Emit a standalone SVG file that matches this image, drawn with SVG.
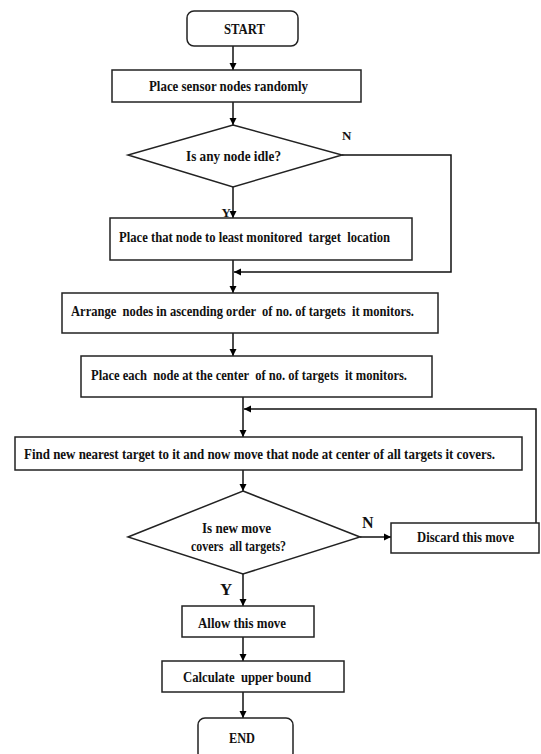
<svg xmlns="http://www.w3.org/2000/svg" width="541" height="754" viewBox="0 0 541 754">
<defs>
<marker id="ah" viewBox="0 0 10 10" refX="10" refY="5" markerWidth="7" markerHeight="8" markerUnits="userSpaceOnUse" orient="auto">
<path d="M0,0 L10,5 L0,10 z" fill="#000"/>
</marker>
<style>
.box{fill:#fff;stroke:#222;stroke-width:1.5}
.t{font-family:"Liberation Serif","Times New Roman",serif;font-weight:bold;font-size:15px;fill:#111}
.lb{font-family:"Liberation Serif","Times New Roman",serif;font-weight:bold;fill:#111}
.c{fill:none;stroke:#111;stroke-width:1.5;marker-end:url(#ah)}
</style>
</defs>
<rect width="541" height="754" fill="#fff"/>
<g id="connectors">
<line class="c" x1="233" y1="46" x2="233" y2="70"/>
<line class="c" x1="233" y1="102" x2="233" y2="125"/>
<line class="c" x1="233" y1="187" x2="233" y2="218"/>
<line class="c" x1="233" y1="260" x2="233" y2="293"/>
<polyline class="c" points="342,155 451,155 451,272 234,272"/>
<line class="c" x1="233" y1="333" x2="233" y2="356"/>
<line class="c" x1="243" y1="397" x2="243" y2="437"/>
<polyline class="c" points="536,523 536,409 244,409"/>
<line class="c" x1="243" y1="470" x2="243" y2="491"/>
<line class="c" x1="360" y1="537" x2="391" y2="537"/>
<line class="c" x1="243" y1="574" x2="243" y2="606"/>
<line class="c" x1="243" y1="637" x2="243" y2="661"/>
<line class="c" x1="243" y1="692" x2="243" y2="718"/>
</g>
<g id="start">
<rect class="box" x="187" y="11" width="111" height="35" rx="7"/>
<text class="t" x="244.5" y="34" text-anchor="middle" textLength="41" lengthAdjust="spacingAndGlyphs">START</text>
</g>
<g id="place-random">
<rect class="box" x="112" y="70" width="249" height="32"/>
<text class="t" x="149" y="91" textLength="159" lengthAdjust="spacingAndGlyphs">Place sensor nodes randomly</text>
</g>
<g id="idle-decision">
<polygon class="box" points="233,125 342,155 233,187 128,155"/>
<text class="t" x="186" y="161" textLength="95" lengthAdjust="spacingAndGlyphs">Is any node idle?</text>
<text class="lb" x="342" y="140" font-size="13">N</text>
<text class="lb" x="231" y="217" font-size="13" text-anchor="end">Y</text>
</g>
<g id="place-least">
<rect class="box" x="110" y="218" width="302" height="42"/>
<text class="t" x="119" y="242" textLength="271" lengthAdjust="spacingAndGlyphs" xml:space="preserve">Place that node to least monitored  target  location</text>
</g>
<g id="arrange">
<rect class="box" x="62" y="293" width="376" height="40"/>
<text class="t" x="71" y="316" textLength="343" lengthAdjust="spacingAndGlyphs" xml:space="preserve">Arrange  nodes in ascending order  of no. of targets  it monitors.</text>
</g>
<g id="place-center">
<rect class="box" x="81" y="356" width="351" height="41"/>
<text class="t" x="91" y="380" textLength="316" lengthAdjust="spacingAndGlyphs" xml:space="preserve">Place each  node at the center  of no. of targets  it monitors.</text>
</g>
<g id="find-nearest">
<rect class="box" x="15" y="437" width="507" height="33"/>
<text class="t" x="24" y="459" font-size="14" textLength="471" lengthAdjust="spacingAndGlyphs" style="font-size:14px">Find new nearest target to it and now move that node at center of all targets it covers.</text>
</g>
<g id="covers-decision">
<polygon class="box" points="243,491 360,537 243,574 128,537"/>
<text class="t" x="202" y="533" textLength="69" lengthAdjust="spacingAndGlyphs">Is new move</text>
<text class="t" x="191" y="551" textLength="95" lengthAdjust="spacingAndGlyphs" xml:space="preserve">covers  all targets?</text>
<text class="lb" x="362" y="528" font-size="16">N</text>
<text class="lb" x="220" y="595" font-size="17">Y</text>
</g>
<g id="discard">
<rect class="box" x="391" y="523" width="148" height="30"/>
<text class="t" x="417" y="542" textLength="97" lengthAdjust="spacingAndGlyphs">Discard this move</text>
</g>
<g id="allow">
<rect class="box" x="182" y="606" width="132" height="31"/>
<text class="t" x="198" y="628" textLength="88" lengthAdjust="spacingAndGlyphs">Allow this move</text>
</g>
<g id="upper-bound">
<rect class="box" x="162" y="661" width="182" height="31"/>
<text class="t" x="183" y="682" textLength="128" lengthAdjust="spacingAndGlyphs" xml:space="preserve">Calculate  upper bound</text>
</g>
<g id="end">
<rect class="box" x="198" y="718" width="95" height="42" rx="7"/>
<text class="t" x="242" y="743" text-anchor="middle" textLength="26" lengthAdjust="spacingAndGlyphs">END</text>
</g>
</svg>
